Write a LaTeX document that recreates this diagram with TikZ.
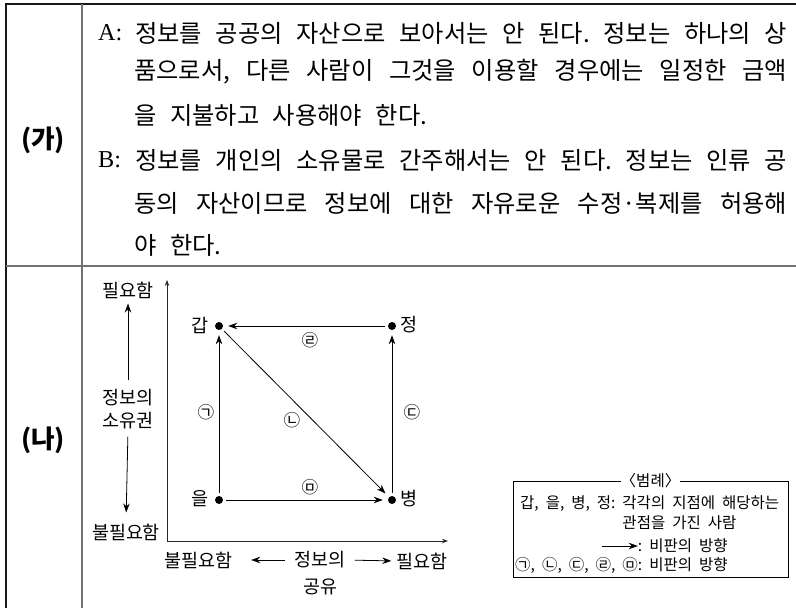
\documentclass[tikz,border=0pt]{standalone}
\usepackage{fontspec}
\setmainfont{Noto Sans CJK KR}
\newfontfamily\latinserif{Liberation Serif}
\usetikzlibrary{arrows.meta}
\newlength\natw
\newlength\indw
\newsavebox\measbox
\newcommand\widesp{\spaceskip=0.56em plus 1em minus 0.25em\relax}
\newcommand\legsp{\spaceskip=0.45em plus 0.2em minus 0.1em\relax}
\begin{document}
\frenchspacing
% font sizes fitted to the reference widths
\sbox\measbox{\fontsize{10}{10}\selectfont\widesp 을 지불하고 사용해야 한다.}\setlength\natw{\wd\measbox}%
\pgfmathsetmacro\bodysz{10*293/\natw}%
\sbox\measbox{\fontsize{10}{10}\selectfont 필요함}\setlength\natw{\wd\measbox}%
\pgfmathsetmacro\lblsz{10*51/\natw}%
\pgfmathsetmacro\circsz{0.9*\lblsz}%
\sbox\measbox{\fontsize{10}{10}\selectfont\legsp 갑, 을, 병, 정: 각각의 지점에 해당하는}\setlength\natw{\wd\measbox}%
\pgfmathsetmacro\legsz{10*259/\natw}%
\sbox\measbox{\fontsize{10}{10}\selectfont\bfseries (가)}\setlength\natw{\wd\measbox}%
\pgfmathsetmacro\headsz{10*44/\natw}%
\sbox\measbox{\fontsize{\legsz}{\legsz}\selectfont\legsp 갑, 을, 병, 정: }\setlength\indw{\wd\measbox}%
\begin{tikzpicture}[x=1pt,y=-1pt,
  body/.style={font={\fontsize{\bodysz}{\bodysz}\selectfont\widesp}, inner sep=0, anchor=west},
  lat/.style={font=\fontsize{\bodysz}{\bodysz}\selectfont\latinserif, inner sep=0, anchor=west},
  head/.style={font=\fontsize{\headsz}{\headsz}\selectfont\bfseries, inner sep=0},
  lbl/.style={font=\fontsize{\lblsz}{\lblsz}\selectfont, inner sep=0},
  circ/.style={font=\fontsize{\circsz}{\circsz}\selectfont, inner sep=0},
  leg/.style={font={\fontsize{\legsz}{\legsz}\selectfont\legsp}, inner sep=0, anchor=west},
  dotnode/.style={circle, fill=black, minimum size=8pt, inner sep=0},
  arr/.style={-{Stealth[length=9pt,width=6.5pt]}, line width=0.8pt},
  axisline/.style={-{Stealth[length=6pt,width=4.5pt]}, line width=0.8pt, draw=black!85},
  blackrule/.style={line width=1.4pt, draw=black!90},
  grayrule/.style={line width=1.5pt, draw=black!55}]
\useasboundingbox (0,0) rectangle (796,608);

% table rules
\draw[blackrule] (6,608) -- (6,4) -- (796,4);
\draw[grayrule] (82,4) -- (82,608);
\draw[grayrule] (6,266) -- (796,266);

% row headers
\node[head] (ga) at (43,140) {(가)};
\node[head] (na) at (43,440) {(나)};

% text block
\node[lat] (A) at (98,33) {A:};
\node[body] (t1) at (135,33) {\makebox[652pt][s]{정보를 공공의 자산으로 보아서는 안 된다. 정보는 하나의 상}};
\node[body] (t2) at (134,72) {\makebox[653pt][s]{품으로서, 다른 사람이 그것을 이용할 경우에는 일정한 금액}};
\node[body] (t3) at (134,115) {을 지불하고 사용해야 한다.};
\node[lat] (B) at (98,160) {B:};
\node[body] (t4) at (135,160) {\makebox[652pt][s]{정보를 개인의 소유물로 간주해서는 안 된다. 정보는 인류 공}};
\node[body] (t5) at (134,203) {\makebox[653pt][s]{동의 자산이므로 정보에 대한 자유로운 수정·복제를 허용해}};
\node[body] (t6) at (134,245) {야 한다.};

% axes
\coordinate (O) at (167,541);
\coordinate (ytop) at (167,280);
\coordinate (xend) at (448,541);
\draw[axisline] (O) -- (ytop);
\draw[axisline] (O) -- (xend);

% vertical axis labels
\node[lbl] (need) at (128,290) {필요함};
\node[lbl] (own1) at (128,398) {정보의};
\node[lbl] (own2) at (128,421) {소유권};
\node[lbl] (noneed) at (126,532) {불필요함};
\draw[arr, shorten <=9pt, shorten >=5pt] (own1.north) -- (need.south);
\draw[arr, shorten <=7pt, shorten >=11pt] (own2.south) -- (noneed.north);

% horizontal axis labels
\node[lbl] (bno) at (198,560) {불필요함};
\node[lbl] (sh1) at (320,560) {정보의};
\node[lbl] (sh2) at (320,587) {공유};
\node[lbl] (bneed) at (422,561) {필요함};
\draw[arr, shorten <=9pt, shorten >=19pt] (sh1.west) -- (bno.east);
\draw[arr, shorten <=9pt, shorten >=5pt] (sh1.east) -- (bneed.west);

% points
\node[dotnode] (gap) at (219,326) {};
\node[dotnode] (jeong) at (392,326) {};
\node[dotnode] (eul) at (219,500) {};
\node[dotnode] (byeong) at (392,500) {};
\node[lbl, anchor=east] (lgap) at (209,325) {갑};
\node[lbl, anchor=west] (ljeong) at (400,325) {정};
\node[lbl, anchor=east] (leul) at (209,499) {을};
\node[lbl, anchor=west] (lbyeong) at (400,499) {병};

% criticism arrows
\draw[arr, shorten <=3pt, shorten >=5pt] (jeong) -- (gap);
\draw[arr, shorten <=3pt, shorten >=5pt] (eul) -- (gap);
\draw[arr, shorten <=3pt, shorten >=5pt] (gap) -- (byeong);
\draw[arr, shorten <=3pt, shorten >=5pt] (byeong) -- (jeong);
\draw[arr, shorten <=3pt, shorten >=5pt] (eul) -- (byeong);

% circled labels
\node[circ] (c4) at (310,340) {㉣};
\node[circ] (c1) at (206,412) {㉠};
\node[circ] (c2) at (292,420) {㉡};
\node[circ] (c3) at (412,412) {㉢};
\node[circ] (c5) at (310,487) {㉤};

% legend
\node[draw, line width=1pt, minimum width=275pt, minimum height=96pt, inner sep=0] (legbox) at (650.5,529) {};
\node[leg, anchor=center, fill=white, inner xsep=0pt, inner ysep=0pt] (legtitle) at (legbox.north) {〈범례〉};
\node[leg] (l1) at (520,504) {갑, 을, 병, 정: 각각의 지점에 해당하는};
\node[leg] (l2) at ([xshift=\indw]l1.west |- 0,523) {관점을 가진 사람};
\node[leg] (l4) at (515,565) {㉠, ㉡, ㉢, ㉣, ㉤: 비판의 방향};
\node[leg, anchor=east] (l3) at (l4.east |- 0,546) {: 비판의 방향};
\coordinate (la) at ([xshift=-36pt]l3.west);
\draw[arr] (la) -- (l3.west);
\end{tikzpicture}
\end{document}
